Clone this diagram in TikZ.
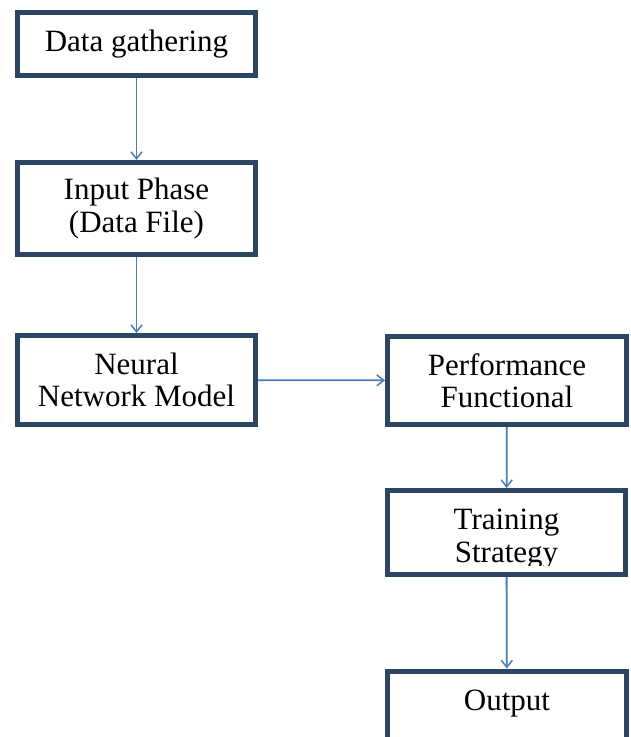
\documentclass[tikz,border=0pt]{standalone}
\usepackage{fontspec}
\setmainfont{Liberation Serif}
\usetikzlibrary{arrows.meta}
\definecolor{boxc}{RGB}{44,69,99}
\definecolor{arrc}{RGB}{74,126,187}
\tikzset{
  stepbox/.style={draw=boxc, line width=5pt, fill=white, align=center,
    font=\fontsize{31}{32}\selectfont, inner sep=0pt, text=black},
  flow/.style={draw=arrc, line width=1.8pt,
    -{Straight Barb[length=7pt,width=11pt,line width=1.5pt]}},
  txt/.style={align=center, font=\fontsize{31}{33}\selectfont, inner sep=0pt, text=black}
}
\begin{document}
\begin{tikzpicture}[x=1pt,y=-1pt]
\useasboundingbox (0,0) rectangle (630,737);
\clip (0,0) rectangle (630,737);
\fill[white] (0,0) rectangle (630,737);
\node[stepbox, minimum width=238pt, minimum height=63pt] (gather) at (136.5,44) {Data gathering};
\node[stepbox, minimum width=238pt, minimum height=92pt, font=\fontsize{31}{33}\selectfont] (input) at (136.5,208.5) {Input Phase\\(Data File)};
\node[stepbox, minimum width=238pt, minimum height=89pt] (nn) at (136.5,380) {Neural\\Network Model};
\node[stepbox, minimum width=239pt, minimum height=88pt] (perf) at (507,380.5) {Performance\\Functional};
\node[stepbox, minimum width=238pt, minimum height=84pt] (train) at (506.5,532.5) {};
\begin{scope}
  \clip (390,492) rectangle (624,565);
  \node[txt] (traintext) at (506.5,539.5) {Training\\Strategy};
\end{scope}
\node[stepbox, anchor=north, minimum width=239pt, inner xsep=0pt, inner ysep=18.5pt,
  text height=21pt, text depth=60pt] (out) at (507,668.5) {Output};
\draw[flow] (gather) -- (input);
\draw[flow] (input) -- (nn);
\draw[flow] (nn) -- (perf);
\draw[flow] (perf) -- (train);
\draw[flow] (train) -- (out);
\end{tikzpicture}
\end{document}
